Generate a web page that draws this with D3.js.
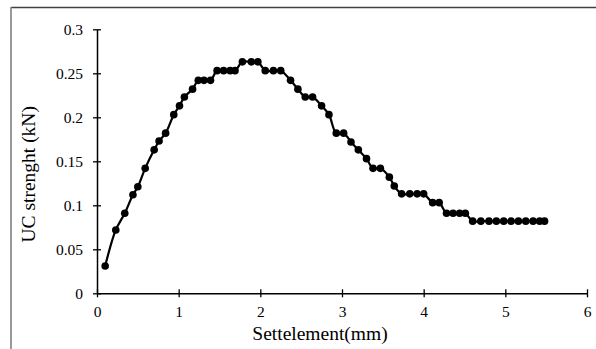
<!DOCTYPE html>
<html>
<head>
<meta charset="utf-8">
<script src="https://cdn.jsdelivr.net/npm/d3@7/dist/d3.min.js"></script>
<style>
  html, body { margin: 0; padding: 0; background: #fff; }
  svg { display: block; }
</style>
</head>
<body>
<svg id="chart" width="596" height="349"></svg>
<script>
// Settlement (mm) readings and matching unconfined compression strength (kN)
const settlement = [0.10, 0.23, 0.34, 0.44, 0.50, 0.59, 0.70, 0.76, 0.84, 0.94,
  1.01, 1.07, 1.17, 1.24, 1.31, 1.39, 1.47, 1.55, 1.63, 1.69,
  1.78, 1.89, 1.97, 2.06, 2.16, 2.25, 2.37, 2.46, 2.55, 2.64,
  2.75, 2.84, 2.93, 3.02, 3.11, 3.20, 3.30, 3.38, 3.47, 3.58,
  3.64, 3.73, 3.83, 3.92, 4.00, 4.11, 4.19, 4.28, 4.36, 4.44,
  4.51, 4.60, 4.70, 4.80, 4.89, 4.98, 5.07, 5.16, 5.25, 5.34,
  5.42, 5.48];
const strength = [0.031, 0.072, 0.091, 0.112, 0.121, 0.142, 0.163, 0.173, 0.182, 0.203,
  0.213, 0.223, 0.232, 0.242, 0.242, 0.242, 0.253, 0.253, 0.253, 0.253,
  0.263, 0.263, 0.263, 0.253, 0.253, 0.253, 0.242, 0.232, 0.223, 0.223,
  0.213, 0.203, 0.182, 0.182, 0.172, 0.163, 0.153, 0.142, 0.142, 0.132,
  0.122, 0.113, 0.113, 0.113, 0.113, 0.103, 0.103, 0.091, 0.091, 0.091,
  0.091, 0.082, 0.082, 0.082, 0.082, 0.082, 0.082, 0.082, 0.082, 0.082,
  0.082, 0.082];
const xTicks = [0, 1, 2, 3, 4, 5, 6];
const yTicks = [0, 0.05, 0.1, 0.15, 0.2, 0.25, 0.3];
const xTitle = "Settelement(mm)";
const yTitle = "UC strenght (kN)";

const serif = "'Liberation Serif', 'Times New Roman', serif";
const svg = d3.select("#chart");
const plot = { left: 97, right: 587, top: 29.3, bottom: 293.3 };

// chart frame
svg.append("line").attr("x1", 11).attr("x2", 596).attr("y1", 7.5).attr("y2", 7.5)
  .attr("stroke", "#404040").attr("stroke-width", 1.3);
svg.append("line").attr("x1", 11).attr("x2", 11).attr("y1", 7).attr("y2", 349)
  .attr("stroke", "#808080").attr("stroke-width", 1.6);

const x = d3.scaleLinear().domain([0, 6]).range([plot.left, plot.right]);
const y = d3.scaleLinear().domain([0, 0.3]).range([plot.bottom, plot.top]);

const fmt = d => String(+d.toFixed(2));

// axes with ticks crossing the axis line
const xAxis = svg.append("g").attr("transform", `translate(0,${plot.bottom})`)
  .call(d3.axisBottom(x).tickValues(xTicks).tickFormat(fmt).tickSizeInner(4).tickSizeOuter(0).tickPadding(9));
xAxis.selectAll(".tick line").attr("y1", -4);
const yAxis = svg.append("g").attr("transform", `translate(${plot.left},0)`)
  .call(d3.axisLeft(y).tickValues(yTicks).tickFormat(fmt).tickSizeInner(4).tickSizeOuter(0).tickPadding(10));
yAxis.selectAll(".tick line").attr("x1", 4);

[xAxis, yAxis].forEach(g => {
  g.attr("font-family", serif).attr("font-size", 15.5);
  g.select(".domain").attr("stroke", "#000").attr("stroke-width", 1.5);
  g.selectAll(".tick line").attr("stroke", "#000").attr("stroke-width", 1.3);
  g.selectAll(".tick text").attr("fill", "#000")
    .attr("font-family", serif).attr("font-size", 15.5);
});

// axis titles
svg.append("text").attr("x", 320).attr("y", 340)
  .attr("text-anchor", "middle").attr("font-family", serif)
  .attr("font-size", 19.5).attr("fill", "#000").text(xTitle);
svg.append("text").attr("transform", `translate(35,${(plot.top + plot.bottom) / 2 + 13}) rotate(-90)`)
  .attr("text-anchor", "middle").attr("font-family", serif)
  .attr("font-size", 19.5).attr("fill", "#000").text(yTitle);

// series
const pts = settlement.map((s, i) => [s, strength[i]]);
const line = d3.line().x(d => x(d[0])).y(d => y(d[1])).curve(d3.curveCatmullRom.alpha(0.5));
svg.append("path").datum(pts).attr("d", line)
  .attr("fill", "none").attr("stroke", "#000").attr("stroke-width", 2.2);
svg.append("g").selectAll("circle").data(pts).join("circle")
  .attr("cx", d => x(d[0])).attr("cy", d => y(d[1])).attr("r", 3.8).attr("fill", "#000");
</script>
</body>
</html>
